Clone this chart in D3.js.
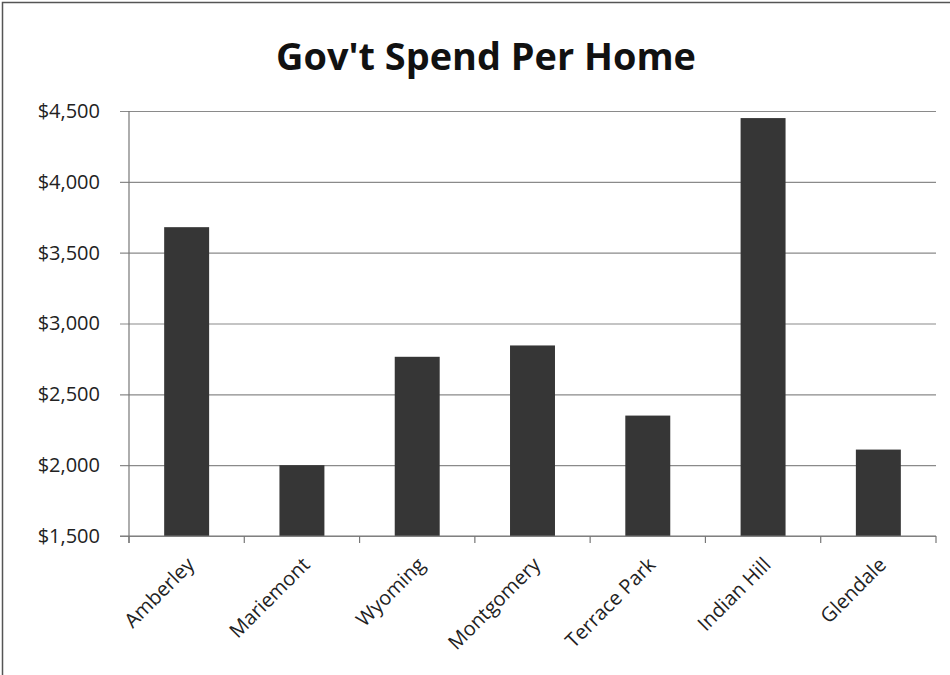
<!DOCTYPE html>
<html><head><meta charset="utf-8">
<script src="https://cdn.jsdelivr.net/npm/d3@7"></script>
<style>body{margin:0;background:#fff}svg{display:block}</style>
</head><body><svg id="c" width="950" height="675"></svg>
<script>
const title = "Gov't Spend Per Home";
const categories = ["Amberley","Mariemont","Wyoming","Montgomery","Terrace Park","Indian Hill","Glendale"];
const values = [3680, 2000, 2765, 2845, 2350, 4450, 2110];
const yTicks = [1500, 2000, 2500, 3000, 3500, 4000, 4500];

const svg = d3.select("#c");
const W = 950, H = 675;
const m = {left:129, right:14, top:111, bottom:139};
const font = "'Open Sans', sans-serif";

svg.append("rect").attr("x",2.5).attr("y",2.5).attr("width",W+5).attr("height",H+5)
  .attr("fill","#fff").attr("stroke","#555").attr("stroke-width",1.5);

const x = d3.scaleBand().domain(categories).range([m.left, W-m.right]).paddingInner(0.61).paddingOuter(0.305);
const y = d3.scaleLinear().domain([1500,4500]).range([H-m.bottom, m.top]);

// gridlines
const gy = svg.append("g").attr("transform",`translate(${m.left},0)`)
  .call(d3.axisLeft(y).tickValues(yTicks).tickSize(-(W-m.right-m.left)).tickFormat(""));
gy.selectAll(".tick line").attr("stroke","#8a8a8a").attr("stroke-width",1.2).attr("x1",-9);
gy.select(".domain").remove();

// y labels
const ya = svg.append("g").attr("transform",`translate(${m.left},0)`)
  .call(d3.axisLeft(y).tickValues(yTicks).tickSize(0).tickPadding(29).tickFormat(d=>"$"+d3.format(",")(d)));
ya.select(".domain").remove();
ya.selectAll("text").attr("font-family",font).attr("font-size",20).attr("fill","#222");

// bars
svg.append("g").selectAll("rect").data(values).join("rect")
  .attr("x",(d,i)=>x(categories[i])).attr("width",x.bandwidth())
  .attr("y",d=>y(d)).attr("height",d=>y(1500)-y(d))
  .attr("fill","#363636");

// y axis line
svg.append("line").attr("x1",m.left).attr("x2",m.left).attr("y1",m.top).attr("y2",H-m.bottom+7)
  .attr("stroke","#777").attr("stroke-width",1.2);
// x axis line + boundary ticks
svg.append("line").attr("x1",m.left-9).attr("x2",W-m.right).attr("y1",y(1500)).attr("y2",y(1500))
  .attr("stroke","#777").attr("stroke-width",1.2);
const bounds = d3.range(categories.length+1).map(i=>m.left + i*(W-m.right-m.left)/categories.length);
svg.append("g").selectAll("line").data(bounds).join("line")
  .attr("x1",d=>d).attr("x2",d=>d).attr("y1",y(1500)).attr("y2",y(1500)+7)
  .attr("stroke","#777").attr("stroke-width",1.2);

// x labels
const xa = svg.append("g").attr("transform",`translate(0,${y(1500)})`)
  .call(d3.axisBottom(x).tickSize(0).tickPadding(0));
xa.select(".domain").remove();
xa.selectAll("text").attr("font-family",font).attr("font-size",20).attr("fill","#222")
  .attr("text-anchor","end").attr("dy",0)
  .attr("transform","translate(9,30) rotate(-45)");

svg.append("text").attr("x",486).attr("y",70).attr("text-anchor","middle")
  .attr("font-family",font).attr("font-weight","bold").attr("font-size",37).attr("fill","#111")
  .attr("textLength",420).attr("lengthAdjust","spacingAndGlyphs")
  .text(title);
</script></body></html>
